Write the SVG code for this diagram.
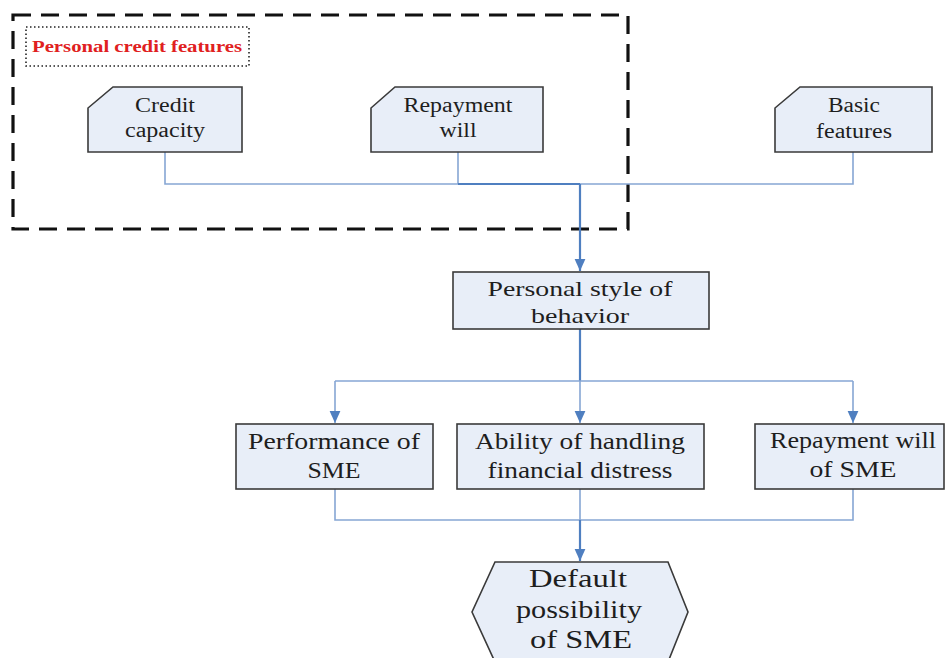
<svg xmlns="http://www.w3.org/2000/svg" width="945" height="658" viewBox="0 0 945 658">
<style>
.nd{fill:#e8eef8;stroke:#3a3a3a;stroke-width:1.6}
.t{font-family:"Times New Roman","Liberation Serif",Times,serif;fill:#1e1e1e;text-anchor:middle}
.lbl{font-family:"Times New Roman","Liberation Serif",Times,serif;font-size:16px;font-weight:bold;fill:#e02020;text-anchor:middle}
.s20{font-size:20px}.s22{font-size:22px}.s24{font-size:24px}.s26{font-size:26px}
.thin{fill:none;stroke:#86a6d4;stroke-width:1.6}
.main{fill:none;stroke:#4f7fc0;stroke-width:2.2}
</style>
<defs>
<marker id="arr" markerWidth="12" markerHeight="12" refX="10" refY="5" orient="auto" markerUnits="userSpaceOnUse" viewBox="0 0 10 10">
<path d="M0,0.5 L10,5 L0,9.5 Z" fill="#4f7fc0"/>
</marker>
</defs>
<rect width="945" height="658" fill="#ffffff"/>
<g id="group-personal-credit">
<rect x="13" y="15" width="615" height="214" fill="none" stroke="#111" stroke-width="3.2" stroke-dasharray="18,10"/>
<rect x="26" y="27" width="223" height="39" fill="none" stroke="#222" stroke-width="1.6" stroke-dasharray="1.5,2.5"/>
<text class="lbl" x="137" y="52" textLength="210" lengthAdjust="spacingAndGlyphs">Personal credit features</text>
</g>
<g id="connectors">
<path class="thin" d="M165,152 V184 H853 V152"/>
<path class="thin" d="M458,152 V184"/>
<path class="main" d="M458,184 H580"/>
<path class="main" d="M580,184 V271" marker-end="url(#arr)"/>
<path class="main" d="M580,329 V381"/>
<path class="thin" d="M335,381 H853"/>
<path class="thin" d="M335,381 V423" marker-end="url(#arr)"/>
<path class="thin" d="M580,381 V423" marker-end="url(#arr)"/>
<path class="thin" d="M853,381 V423" marker-end="url(#arr)"/>
<path class="thin" d="M335,489 V520 H853 V489"/>
<path class="thin" d="M580,489 V520"/>
<path class="main" d="M580,520 V561" marker-end="url(#arr)"/>
</g>
<g id="node-credit-capacity">
<path class="nd" d="M113,87 H242 V152 H88 V108 Z"/>
<text class="t s20" x="165" y="112" textLength="60" lengthAdjust="spacingAndGlyphs">Credit</text>
<text class="t s20" x="165" y="137" textLength="80" lengthAdjust="spacingAndGlyphs">capacity</text>
</g>
<g id="node-repayment-will">
<path class="nd" d="M395,87 H543 V152 H371 V108 Z"/>
<text class="t s20" x="458" y="112" textLength="109" lengthAdjust="spacingAndGlyphs">Repayment</text>
<text class="t s20" x="458" y="137" textLength="37" lengthAdjust="spacingAndGlyphs">will</text>
</g>
<g id="node-basic-features">
<path class="nd" d="M800,87 H932 V152 H775 V108 Z"/>
<text class="t s20" x="854" y="112" textLength="52" lengthAdjust="spacingAndGlyphs">Basic</text>
<text class="t s20" x="854" y="138" textLength="76" lengthAdjust="spacingAndGlyphs">features</text>
</g>
<g id="node-personal-style">
<rect class="nd" x="453" y="272" width="256" height="57"/>
<text class="t s22" x="580" y="296" textLength="185" lengthAdjust="spacingAndGlyphs">Personal style of</text>
<text class="t s22" x="580" y="323" textLength="98" lengthAdjust="spacingAndGlyphs">behavior</text>
</g>
<g id="node-performance">
<rect class="nd" x="236" y="424" width="197" height="65"/>
<text class="t s24" x="334" y="449" textLength="172" lengthAdjust="spacingAndGlyphs">Performance of</text>
<text class="t s24" x="334" y="478" textLength="53" lengthAdjust="spacingAndGlyphs">SME</text>
</g>
<g id="node-ability">
<rect class="nd" x="457" y="424" width="247" height="65"/>
<text class="t s24" x="580" y="449" textLength="210" lengthAdjust="spacingAndGlyphs">Ability of handling</text>
<text class="t s24" x="580" y="478" textLength="185" lengthAdjust="spacingAndGlyphs">financial distress</text>
</g>
<g id="node-repayment-sme">
<rect class="nd" x="755" y="424" width="189" height="65"/>
<text class="t s24" x="853" y="448" textLength="166" lengthAdjust="spacingAndGlyphs">Repayment will</text>
<text class="t s24" x="853" y="477" textLength="87" lengthAdjust="spacingAndGlyphs">of SME</text>
</g>
<g id="node-default">
<path class="nd" d="M495,562 H668 L688,612 L668,662 H495 L472,612 Z"/>
<text class="t s26" x="578" y="587" textLength="98" lengthAdjust="spacingAndGlyphs">Default</text>
<text class="t s26" x="579" y="618" textLength="126" lengthAdjust="spacingAndGlyphs">possibility</text>
<text class="t s26" x="581" y="648" textLength="102" lengthAdjust="spacingAndGlyphs">of SME</text>
</g>
</svg>
